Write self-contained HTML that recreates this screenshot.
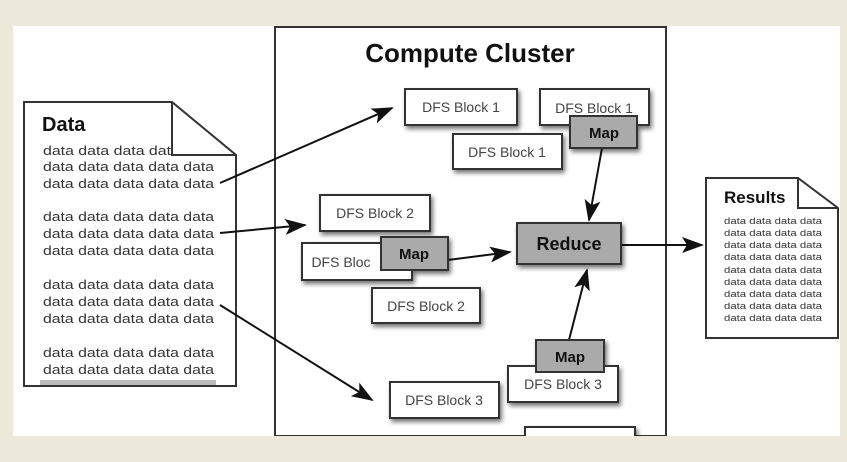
<!DOCTYPE html>
<html><head><meta charset="utf-8"><style>
html,body{margin:0;padding:0;background:#ece9db;}
svg{display:block;}
text{font-family:"Liberation Sans",sans-serif;}
</style></head><body>
<svg width="847" height="462" viewBox="0 0 847 462" xmlns="http://www.w3.org/2000/svg">
<defs>
<filter id="sh" x="-20%" y="-30%" width="150%" height="170%">
<feGaussianBlur in="SourceAlpha" stdDeviation="2.5"/>
<feOffset dx="2" dy="3"/>
<feComponentTransfer><feFuncA type="linear" slope="0.55"/></feComponentTransfer>
<feMerge><feMergeNode/><feMergeNode in="SourceGraphic"/></feMerge>
</filter>
<marker id="arL" markerWidth="22" markerHeight="16" refX="20" refY="8" orient="auto" markerUnits="userSpaceOnUse" viewBox="0 0 22 16">
<path d="M0,0 L22,8 L0,16 L5,8 z" fill="#111"/>
</marker>
</defs>
<rect x="13" y="26" width="827" height="410" fill="#fff"/>
<rect x="275" y="27" width="391" height="409" fill="#fff" stroke="#333" stroke-width="2"/>
<text x="470" y="62" font-size="26" font-weight="bold" text-anchor="middle" fill="#111">Compute Cluster</text>

<!-- Data doc -->
<path d="M24,102 L172,102 L236,155 L236,386 L24,386 Z" fill="#fff" stroke="#333" stroke-width="2"/>
<path d="M172,102 L172,155 L236,155" fill="none" stroke="#333" stroke-width="2"/>
<text x="42" y="131" font-size="20" font-weight="bold" fill="#111">Data</text>
<g font-size="13" fill="#333">
<text x="43" y="155" textLength="128" lengthAdjust="spacingAndGlyphs">data data data dat</text>
<text x="43" y="171" textLength="171" lengthAdjust="spacingAndGlyphs">data data data data data</text>
<text x="43" y="188" textLength="171" lengthAdjust="spacingAndGlyphs">data data data data data</text>
<text x="43" y="221" textLength="171" lengthAdjust="spacingAndGlyphs">data data data data data</text>
<text x="43" y="238" textLength="171" lengthAdjust="spacingAndGlyphs">data data data data data</text>
<text x="43" y="255" textLength="171" lengthAdjust="spacingAndGlyphs">data data data data data</text>
<text x="43" y="289" textLength="171" lengthAdjust="spacingAndGlyphs">data data data data data</text>
<text x="43" y="306" textLength="171" lengthAdjust="spacingAndGlyphs">data data data data data</text>
<text x="43" y="323" textLength="171" lengthAdjust="spacingAndGlyphs">data data data data data</text>
<text x="43" y="357" textLength="171" lengthAdjust="spacingAndGlyphs">data data data data data</text>
<text x="43" y="374" textLength="171" lengthAdjust="spacingAndGlyphs">data data data data data</text>
</g>
<rect x="40" y="380" width="176" height="5" fill="#bbb"/>

<!-- Results doc -->
<path d="M706,178 L798,178 L838,208 L838,338 L706,338 Z" fill="#fff" stroke="#333" stroke-width="2"/>
<path d="M798,178 L798,208 L838,208" fill="none" stroke="#333" stroke-width="2"/>
<text x="724" y="203" font-size="17" font-weight="bold" fill="#111">Results</text>
<g font-size="9" fill="#333">
<text x="724" y="224" textLength="98" lengthAdjust="spacingAndGlyphs">data data data data</text>
<text x="724" y="236" textLength="98" lengthAdjust="spacingAndGlyphs">data data data data</text>
<text x="724" y="248" textLength="98" lengthAdjust="spacingAndGlyphs">data data data data</text>
<text x="724" y="260" textLength="98" lengthAdjust="spacingAndGlyphs">data data data data</text>
<text x="724" y="273" textLength="98" lengthAdjust="spacingAndGlyphs">data data data data</text>
<text x="724" y="285" textLength="98" lengthAdjust="spacingAndGlyphs">data data data data</text>
<text x="724" y="297" textLength="98" lengthAdjust="spacingAndGlyphs">data data data data</text>
<text x="724" y="309" textLength="98" lengthAdjust="spacingAndGlyphs">data data data data</text>
<text x="724" y="321" textLength="98" lengthAdjust="spacingAndGlyphs">data data data data</text>
</g>

<!-- arrows -->
<g stroke="#111" stroke-width="2" fill="none">
<line x1="220" y1="183" x2="392" y2="108" marker-end="url(#arL)"/>
<line x1="220" y1="233" x2="305" y2="225" marker-end="url(#arL)"/>
<line x1="220" y1="305" x2="372" y2="400" marker-end="url(#arL)"/>
<line x1="448" y1="260" x2="510" y2="252" marker-end="url(#arL)"/>
<line x1="602" y1="148" x2="589" y2="220" marker-end="url(#arL)"/>
<line x1="569" y1="340" x2="587" y2="270" marker-end="url(#arL)"/>
<line x1="621" y1="245" x2="702" y2="245" marker-end="url(#arL)"/>
</g>

<!-- boxes -->
<g stroke="#333" stroke-width="2" filter="url(#sh)">
<rect x="405" y="89" width="112" height="36" fill="#fff"/>
<rect x="540" y="89" width="109" height="36" fill="#fff"/>
<rect x="453" y="134" width="109" height="35" fill="#fff"/>
<rect x="570" y="116" width="67" height="32" fill="#aaa"/>
<rect x="320" y="195" width="110" height="36" fill="#fff"/>
<rect x="302" y="243" width="110" height="37" fill="#fff"/>
<rect x="381" y="237" width="67" height="33" fill="#aaa"/>
<rect x="372" y="288" width="108" height="35" fill="#fff"/>
<rect x="517" y="223" width="104" height="41" fill="#aaa"/>
<rect x="508" y="366" width="110" height="36" fill="#fff"/>
<rect x="536" y="340" width="68" height="32" fill="#aaa"/>
<rect x="390" y="382" width="109" height="36" fill="#fff"/>
<rect x="525" y="427" width="110" height="12" fill="#fff"/>
</g>
<g font-size="14" fill="#444" text-anchor="middle">
<text x="461" y="112">DFS Block 1</text>
<text x="594" y="113">DFS Block 1</text>
<text x="507" y="157">DFS Block 1</text>
<text x="375" y="218">DFS Block 2</text>
<text x="341" y="267">DFS Bloc</text>
<text x="426" y="311">DFS Block 2</text>
<text x="563" y="389">DFS Block 3</text>
<text x="444" y="405">DFS Block 3</text>
</g>
<g font-weight="bold" fill="#111" text-anchor="middle">
<text x="604" y="138" font-size="15">Map</text>
<text x="414" y="259" font-size="15">Map</text>
<text x="570" y="362" font-size="15">Map</text>
<text x="569" y="250" font-size="18">Reduce</text>
</g>
<rect x="0" y="436" width="847" height="26" fill="#ece9db"/>
</svg>
</body></html>
